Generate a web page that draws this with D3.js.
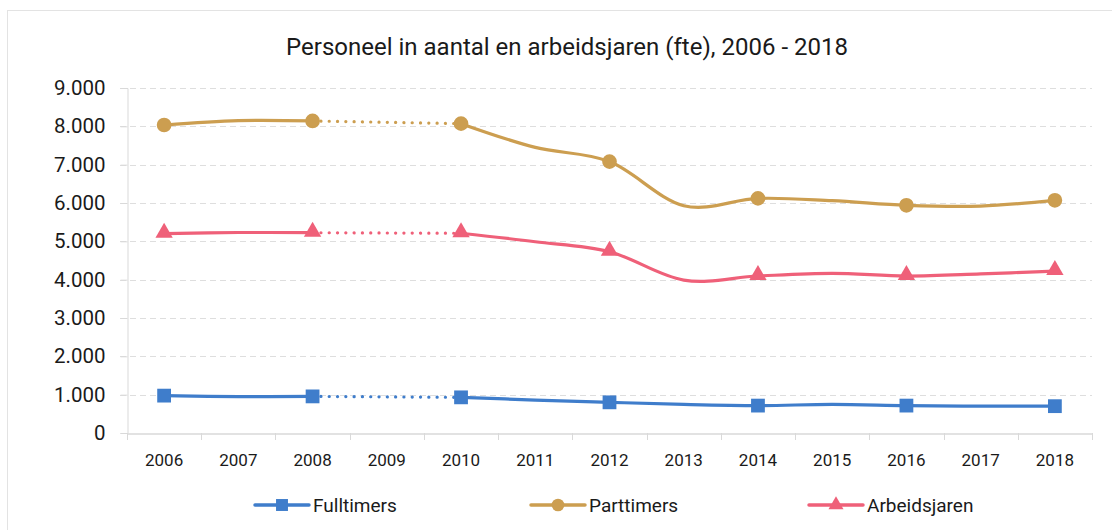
<!DOCTYPE html>
<html>
<head>
<meta charset="utf-8">
<script src="https://cdn.jsdelivr.net/npm/d3@7"></script>
<style>
html,body{margin:0;padding:0;background:#fff;}
svg{display:block;}
text{font-family:"Roboto","DejaVu Sans Condensed",sans-serif;fill:#1a1a1a;}
</style>
</head>
<body>
<svg id="chart" width="1112" height="530"></svg>
<script>
const years = ["2006","2007","2008","2009","2010","2011","2012","2013","2014","2015","2016","2017","2018"];
const fulltimers   = [975, 950, 955, null, 930, 860, 800, 745, 715, 745, 715, 700, 700];
const parttimers   = [8035, 8150, 8140, null, 8070, 7450, 7080, 5930, 6120, 6060, 5940, 5920, 6070];
const arbeidsjaren = [5200, 5230, 5225, null, 5210, 4990, 4730, 3990, 4095, 4165, 4095, 4150, 4225];
const markerYears = ["2006","2008","2010","2012","2014","2016","2018"];
const yTicks = [0,1000,2000,3000,4000,5000,6000,7000,8000,9000];
const seriesNames = ["Fulltimers","Parttimers","Arbeidsjaren"];
const title = "Personeel in aantal en arbeidsjaren (fte), 2006 - 2018";

const colors = {"Fulltimers":"#3f7dcb","Parttimers":"#cc9e50","Arbeidsjaren":"#ef6079"};
const symbols = {"Fulltimers":d3.symbolSquare,"Parttimers":d3.symbolCircle,"Arbeidsjaren":d3.symbolTriangle};
const symSize = {"Fulltimers":190,"Parttimers":170,"Arbeidsjaren":130};
const seriesData = {"Fulltimers":fulltimers,"Parttimers":parttimers,"Arbeidsjaren":arbeidsjaren};

const svg = d3.select("#chart");
const pLeft = 127, pRight = 1092, pTop = 88, pBottom = 433;

svg.append("rect").attr("x",7.5).attr("y",10.5).attr("width",1120).attr("height",540)
  .attr("fill","#fff").attr("stroke","#e3e3e3").attr("stroke-width",1);

svg.append("text").attr("x",567).attr("y",55).attr("text-anchor","middle")
  .style("font-size","24px").style("font-weight","400").text(title);

const x = d3.scaleBand().domain(years).range([pLeft,pRight]);
const y = d3.scaleLinear().domain([0,9000]).range([pBottom,pTop]);
const fmt = v => d3.format(",")(v).replace(/,/g,".");

// gridlines
svg.append("g").selectAll("line").data(yTicks.filter(t=>t>0)).join("line")
  .attr("x1",pLeft-7).attr("x2",pRight).attr("y1",d=>Math.round(y(d))+0.5).attr("y2",d=>Math.round(y(d))+0.5)
  .attr("stroke","#dedede").attr("stroke-width",1).attr("stroke-dasharray","6,4");

// y axis
const yAxis = svg.append("g").attr("transform",`translate(${pLeft+0.5},0)`)
  .call(d3.axisLeft(y).tickValues(yTicks).tickFormat(fmt).tickSize(7).tickPadding(15));
yAxis.select(".domain").attr("stroke","#d9d9d9");
yAxis.selectAll(".tick line").attr("stroke","#d9d9d9");
yAxis.selectAll(".tick text").style("font-size","20.5px").style("font-family","Roboto, sans-serif").attr("fill","#1a1a1a");

// x axis
const xAxis = svg.append("g").attr("transform",`translate(0,${pBottom+0.5})`)
  .call(d3.axisBottom(x).tickSize(0).tickPadding(20));
xAxis.select(".domain").attr("stroke","#d9d9d9").attr("stroke-width",1.5);
xAxis.selectAll(".tick text").style("font-size","17px").style("font-family","Roboto, sans-serif").attr("fill","#1a1a1a");
svg.append("g").selectAll("line").data(d3.range(years.length+1)).join("line")
  .attr("x1",i=>Math.round(pLeft + i*x.step())+0.5).attr("x2",i=>Math.round(pLeft + i*x.step())+0.5)
  .attr("y1",pBottom).attr("y2",pBottom+7).attr("stroke","#d9d9d9");

const cx = yr => x(yr) + x.bandwidth()/2;
const lineSmooth = d3.line().x(d=>cx(d.year)).y(d=>y(d.v)).curve(d3.curveCatmullRom.alpha(0));
const lineStraight = d3.line().x(d=>cx(d.year)).y(d=>y(d.v));

seriesNames.forEach(name=>{
  const vals = seriesData[name];
  const pts = years.map((yr,i)=>({year:yr,v:vals[i]}));
  const seg1 = pts.slice(0,3), seg2 = pts.slice(4);
  const g = svg.append("g");
  [seg1,seg2].forEach(seg=>{
    g.append("path").attr("d",lineSmooth(seg)).attr("fill","none")
      .attr("stroke",colors[name]).attr("stroke-width",3.2).attr("stroke-linecap","round");
  });
  g.append("path").attr("d",lineStraight([pts[2],pts[4]])).attr("fill","none")
    .attr("stroke",colors[name]).attr("stroke-width",3.2).attr("stroke-linecap","round")
    .attr("stroke-dasharray","0.1,8.2");
  const mk = pts.filter(p=>markerYears.includes(p.year) && p.v!=null);
  g.selectAll("path.m").data(mk).join("path").attr("class","m")
    .attr("transform",d=>`translate(${cx(d.year)},${y(d.v) + (name==="Arbeidsjaren"?-1:0)})`)
    .attr("d",d3.symbol().type(symbols[name]).size(symSize[name]))
    .attr("fill",colors[name]);
});

// legend
const legendX = [255, 531, 809];
seriesNames.forEach((name,i)=>{
  const g = svg.append("g").attr("transform",`translate(${legendX[i]},505)`);
  g.append("line").attr("x1",0).attr("x2",54).attr("y1",0).attr("y2",0)
    .attr("stroke",colors[name]).attr("stroke-width",3.5).attr("stroke-linecap","round");
  g.append("path").attr("transform","translate(27,0)")
    .attr("d",d3.symbol().type(symbols[name]).size(symSize[name]*0.75)).attr("fill",colors[name]);
  g.append("text").attr("x",58).attr("y",7).style("font-size","19px").text(name);
});
</script>
</body>
</html>
